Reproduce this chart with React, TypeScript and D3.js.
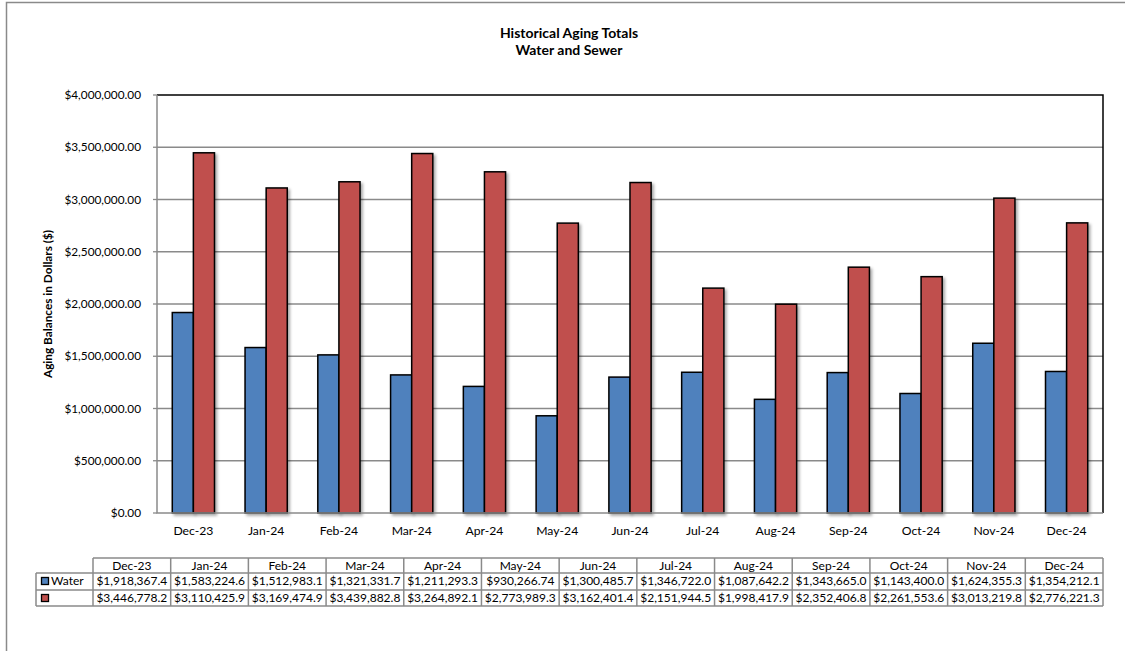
import * as d3 from "d3";
import { useEffect, useRef } from "react";

const months = ["Dec-23", "Jan-24", "Feb-24", "Mar-24", "Apr-24", "May-24", "Jun-24", "Jul-24", "Aug-24", "Sep-24", "Oct-24", "Nov-24", "Dec-24"];
const water = [1918367.4, 1583224.6, 1512983.1, 1321331.7, 1211293.3, 930266.74, 1300485.7, 1346722.0, 1087642.2, 1343665.0, 1143400.0, 1624355.3, 1354212.1];
const sewer = [3446778.2, 3110425.9, 3169474.9, 3439882.8, 3264892.1, 2773989.3, 3162401.4, 2151944.5, 1998417.9, 2352406.8, 2261553.6, 3013219.8, 2776221.3];
const seriesNames = ["Water", ""];
const yTicks = [0, 500000, 1000000, 1500000, 2000000, 2500000, 3000000, 3500000, 4000000];

const W = 1125;
const H = 651;
const FONT = "Lato, 'Open Sans', sans-serif";

export default function App() {
  const ref = useRef<SVGSVGElement | null>(null);

  useEffect(() => {
    const svg = d3.select(ref.current);
    svg.selectAll("*").remove();
    svg.attr("width", W).attr("height", H).style("font-family", FONT);

    const colors = ["#4F81BD", "#C0504D"];
    const series = [water, sewer];

    const defs = svg.append("defs");
    const f = defs.append("filter").attr("id", "shadow").attr("x", "-20%").attr("y", "-5%").attr("width", "150%").attr("height", "115%");
    f.append("feDropShadow").attr("dx", 2).attr("dy", 2).attr("stdDeviation", 1.5).attr("flood-color", "#000").attr("flood-opacity", 0.35);

    svg.append("rect").attr("width", W).attr("height", H).attr("fill", "#fff");

    // outer chart frame
    svg.append("path").attr("d", `M6.5,${H} V2.5 H${W}`).attr("fill", "none").attr("stroke", "#8a8a8a").attr("stroke-width", 1.5);

    // titles
    const title = svg.append("text").attr("x", 569).attr("text-anchor", "middle").attr("font-weight", "bold").attr("font-size", 14).attr("fill", "#000");
    title.append("tspan").attr("x", 569).attr("y", 38).text("Historical Aging Totals");
    title.append("tspan").attr("x", 569).attr("y", 55).text("Water and Sewer");

    const left = 157, right = 1103, top = 95, bottom = 513;

    const y = d3.scaleLinear().domain([0, 4000000]).range([bottom, top]);
    const x = d3.scaleBand<string>().domain(months).range([left, right]).paddingInner(0.42).paddingOuter(0.21);
    const xs = d3.scaleBand<number>().domain([0, 1]).range([0, x.bandwidth()]);

    // gridlines
    svg.append("g")
      .selectAll("line")
      .data(yTicks.slice(1, -1))
      .join("line")
      .attr("x1", left).attr("x2", right)
      .attr("y1", (d) => y(d)).attr("y2", (d) => y(d))
      .attr("stroke", "#8a8a8a").attr("stroke-width", 1.3);

    // y axis labels
    const fmt = d3.format("$,.2f");
    svg.append("g")
      .selectAll("text")
      .data(yTicks)
      .join("text")
      .attr("x", 141).attr("y", (d) => y(d) + 4)
      .attr("text-anchor", "end").attr("font-size", 11.8)
      .text((d) => fmt(d));

    svg.append("g")
      .selectAll("line")
      .data(yTicks)
      .join("line")
      .attr("x1", left - 4).attr("x2", left)
      .attr("y1", (d) => y(d)).attr("y2", (d) => y(d))
      .attr("stroke", "#8a8a8a").attr("stroke-width", 1.3);

    svg.append("text")
      .attr("transform", `translate(52,${(top + bottom) / 2}) rotate(-90)`)
      .attr("text-anchor", "middle").attr("font-weight", "bold").attr("font-size", 11.8)
      .text("Aging Balances in Dollars ($)");

    // bars
    series.forEach((vals, si) => {
      svg.append("g")
        .selectAll("rect")
        .data(vals)
        .join("rect")
        .attr("x", (_, i) => (x(months[i]) ?? 0) + (xs(si) ?? 0))
        .attr("y", (d) => y(d))
        .attr("width", xs.bandwidth())
        .attr("height", (d) => bottom - y(d))
        .attr("fill", colors[si])
        .attr("stroke", "#000").attr("stroke-width", 1.5)
        .attr("filter", "url(#shadow)");
    });

    // plot frame
    svg.append("path").attr("d", `M${left},${top} H${right} V${bottom}`).attr("fill", "none").attr("stroke", "#000").attr("stroke-width", 1.5);
    svg.append("path").attr("d", `M${left},${top} V${bottom} H${right}`).attr("fill", "none").attr("stroke", "#8a8a8a").attr("stroke-width", 1.5);

    // category labels
    svg.append("g")
      .selectAll("text")
      .data(months)
      .join("text")
      .attr("x", (d) => (x(d) ?? 0) + x.bandwidth() / 2)
      .attr("y", 535)
      .attr("text-anchor", "middle").attr("font-size", 12.2)
      .text((d) => d);

    // data table
    const tLeft = 36, tKey = 93, tRight = 1103;
    const rowY = [558, 573, 590, 606];
    const col = d3.scaleBand<string>().domain(months).range([tKey, tRight]);
    const cellFmt = (v: number) => fmt(v).slice(0, 12);
    const tbl = svg.append("g").attr("font-size", 12);
    const stroke = "#8a8a8a";

    // horizontal lines
    tbl.append("line").attr("x1", tKey).attr("x2", tRight).attr("y1", rowY[0]).attr("y2", rowY[0]).attr("stroke", stroke).attr("stroke-width", 1.5);
    tbl.selectAll("line.h")
      .data(rowY.slice(1))
      .join("line")
      .attr("class", "h")
      .attr("x1", tLeft).attr("x2", tRight)
      .attr("y1", (d) => d).attr("y2", (d) => d)
      .attr("stroke", stroke).attr("stroke-width", 1.5);
    // vertical lines
    tbl.append("line").attr("x1", tLeft).attr("x2", tLeft).attr("y1", rowY[1]).attr("y2", rowY[3]).attr("stroke", stroke).attr("stroke-width", 1.5);
    tbl.selectAll("line.v")
      .data([...months.map((m) => col(m) ?? 0), tRight])
      .join("line")
      .attr("class", "v")
      .attr("x1", (d) => d).attr("x2", (d) => d)
      .attr("y1", rowY[0]).attr("y2", rowY[3])
      .attr("stroke", stroke).attr("stroke-width", 1.5);

    tbl.selectAll("text.hd")
      .data(months)
      .join("text")
      .attr("class", "hd")
      .attr("x", (d) => (col(d) ?? 0) + col.bandwidth() / 2)
      .attr("y", rowY[0] + 11.5)
      .attr("text-anchor", "middle")
      .text((d) => d);

    series.forEach((vals, si) => {
      const ry = rowY[si + 1];
      tbl.append("rect")
        .attr("x", 41.5).attr("y", ry + 4.5).attr("width", 7).attr("height", 7)
        .attr("fill", colors[si]).attr("stroke", "#000").attr("stroke-width", 1.3);
      tbl.append("text").attr("x", 51).attr("y", ry + 12).text(seriesNames[si]);
      tbl.selectAll(`text.r${si}`)
        .data(vals)
        .join("text")
        .attr("class", `r${si}`)
        .attr("x", (_, i) => (col(months[i]) ?? 0) + col.bandwidth() / 2)
        .attr("y", ry + 12)
        .attr("text-anchor", "middle")
        .text((d) => cellFmt(d));
    });
  }, []);

  return (
    <div style={{ position: "absolute", left: 0, top: 0 }}>
      <svg ref={ref}></svg>
    </div>
  );
}
